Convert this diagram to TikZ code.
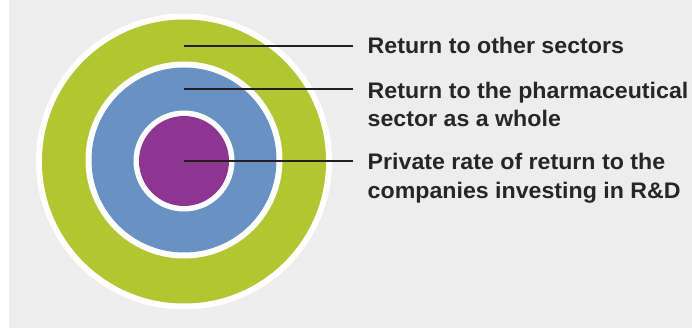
\documentclass[tikz,border=0pt]{standalone}
\usepackage{fontspec}
\setmainfont{Liberation Sans}[BoldFont={Liberation Sans Bold},BoldFeatures={FakeStretch=1.03}]
\definecolor{bggrey}{HTML}{EDEDED}
\definecolor{ringgreen}{HTML}{B2C632}
\definecolor{ringblue}{HTML}{6892C3}
\definecolor{ringpurple}{HTML}{8E3591}
\definecolor{txtgrey}{HTML}{262626}
\definecolor{linegrey}{HTML}{231F20}
\begin{document}
\begin{tikzpicture}[x=1pt,y=-1pt,
  disc/.style={circle,inner sep=0pt,outer sep=0pt,draw=none},
  lbl/.style={anchor=base west,inner xsep=0pt,inner ysep=0pt,text=txtgrey,
    font=\bfseries\fontsize{22.5}{28.5}\selectfont,align=left},
  leader/.style={draw=linegrey,line width=2pt}]
\useasboundingbox (0,0) rectangle (692,328);
\fill[white] (0,0) rectangle (692,328);
\fill[bggrey] (9,0) rectangle (692,328);
% rings
\node[disc,fill=white,minimum size=296pt] (outerw) at (184,161.5) {};
\node[disc,fill=ringgreen,minimum size=284pt] (green) at (184,161.5) {};
\node[disc,fill=white,minimum size=197pt] (bluew) at (184,160) {};
\node[disc,fill=ringblue,minimum size=185pt] (blue) at (184,160) {};
\node[disc,fill=white,minimum size=101pt] (purplew) at (184,161) {};
\node[disc,fill=ringpurple,minimum size=90pt] (purple) at (184,161) {};
% leader start points
\coordinate (p1) at (184,46);
\coordinate (p2) at (184,89);
\coordinate (p3) at (184,161);
\coordinate (e1) at (353,46);
\coordinate (e2) at (353,89);
\coordinate (e3) at (353,161);
% labels (base anchor = baseline of the last line)
\node[lbl] (t1) at (367.5,53.5) {Return to other sectors};
\node[lbl] (t2) at (367.5,126.8) {Return to the pharmaceutical\\sector as a whole};
\node[lbl] (t3) at (367.5,198.5) {Private rate of return to the\\companies investing in R\&D};
% leaders
\draw[leader] (p1) -- (e1);
\draw[leader] (p2) -- (e2);
\draw[leader] (p3) -- (e3);
\end{tikzpicture}
\end{document}
